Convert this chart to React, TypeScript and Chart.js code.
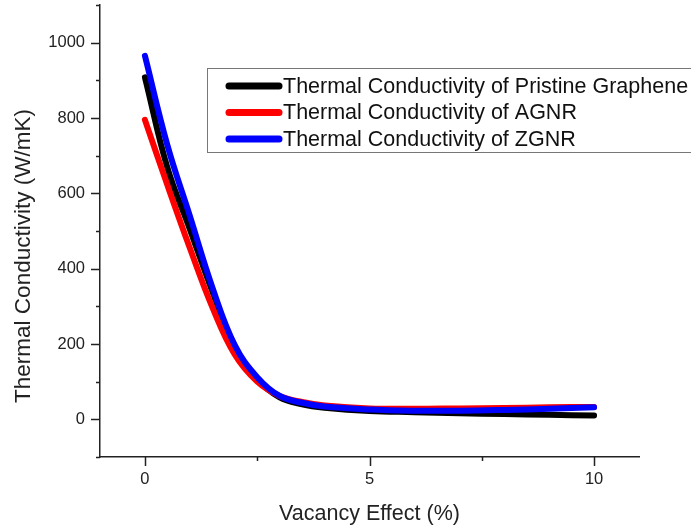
import React, { useEffect, useRef } from "react";
import { Chart, registerables } from "chart.js";

Chart.register(...registerables);

// Vacancy concentration (%) sampled along each curve
const vacancy = [0, 0.5, 1, 1.5, 2, 2.5, 3, 3.5, 4, 5, 6, 7, 8, 9, 10];

// Thermal conductivity (W/mK)
const pristine = [908, 668, 505, 340, 192, 107, 58, 40, 31, 22, 19, 16, 14, 12, 10];
const agnr = [795, 622, 455, 298, 172, 100, 62, 46, 37, 29, 28, 29, 30, 32, 33];
const zgnr = [965, 728, 540, 351, 197, 112, 62, 44, 34, 26, 23, 23, 25, 28, 32];

const seriesLabels = [
  "Thermal Conductivity of Pristine Graphene",
  "Thermal Conductivity of AGNR",
  "Thermal Conductivity of ZGNR",
];
const seriesColors = ["#000000", "#ff0000", "#0000ff"];

const xMajorTicks = [0, 5, 10];
const xMinorTicks = [2.5, 7.5];
const yMajorTicks = [0, 200, 400, 600, 800, 1000];
const yMinorTicks = [-100, 100, 300, 500, 700, 900, 1100];

const xTitle = "Vacancy Effect (%)";
const yTitle = "Thermal Conductivity (W/mK)";

const FONT = "'Liberation Sans', Arial, Helvetica, sans-serif";
const INK = "#222222";

// Outward major/minor tick marks on the left and bottom axes
const tickMarks = {
  id: "tickMarks",
  afterDraw(chart: any) {
    const { ctx, chartArea } = chart;
    const x = chart.scales.x;
    const y = chart.scales.y;
    ctx.save();
    ctx.strokeStyle = INK;
    ctx.lineWidth = 1.5;
    ctx.beginPath();
    const xt = (vals: number[], len: number) =>
      vals.forEach((v) => {
        const px = Math.round(x.getPixelForValue(v)) + 0.5;
        ctx.moveTo(px, chartArea.bottom);
        ctx.lineTo(px, chartArea.bottom + len);
      });
    const yt = (vals: number[], len: number) =>
      vals.forEach((v) => {
        const py = Math.round(y.getPixelForValue(v)) + 0.5;
        ctx.moveTo(chartArea.left, py);
        ctx.lineTo(chartArea.left - len, py);
      });
    xt(xMajorTicks, 9);
    xt(xMinorTicks, 4);
    yt(yMajorTicks, 9);
    yt(yMinorTicks, 4);
    ctx.stroke();
    ctx.restore();
  },
};

// Axis titles
const axisTitles = {
  id: "axisTitles",
  afterDraw(chart: any) {
    const { ctx, chartArea } = chart;
    ctx.save();
    ctx.fillStyle = INK;
    ctx.textAlign = "center";
    ctx.textBaseline = "middle";
    ctx.font = `21.5px ${FONT}`;
    ctx.fillText(xTitle, (chartArea.left + chartArea.right) / 2, chartArea.bottom + 57);
    ctx.translate(chartArea.left - 76, chartArea.top + 251);
    ctx.rotate(-Math.PI / 2);
    ctx.font = `22.5px ${FONT}`;
    ctx.fillText(yTitle, 0, 0);
    ctx.restore();
  },
};

// Boxed legend inside the plot area
const boxLegend = {
  id: "boxLegend",
  afterDraw(chart: any) {
    const { ctx, chartArea } = chart;
    const datasets = chart.data.datasets;
    const left = chartArea.left + 107;
    const top = chartArea.top + 63;
    const rowH = 26.5;
    const boxH = 84;
    ctx.save();
    ctx.fillStyle = "#ffffff";
    ctx.fillRect(left, top, 700, boxH);
    ctx.strokeStyle = "#777777";
    ctx.lineWidth = 1;
    ctx.strokeRect(left + 0.5, top + 0.5, 700, boxH);
    ctx.font = `21.5px ${FONT}`;
    ctx.textBaseline = "middle";
    ctx.textAlign = "left";
    datasets.forEach((ds: any, i: number) => {
      const cy = top + 18 + i * rowH;
      ctx.strokeStyle = ds.borderColor;
      ctx.lineWidth = 7;
      ctx.lineCap = "round";
      ctx.beginPath();
      ctx.moveTo(left + 22, cy);
      ctx.lineTo(left + 72, cy);
      ctx.stroke();
      ctx.fillStyle = "#111111";
      ctx.fillText(ds.label, left + 76, cy + 1);
    });
    ctx.restore();
  },
};

export default function App() {
  const canvasRef = useRef<HTMLCanvasElement | null>(null);

  useEffect(() => {
    const canvas = canvasRef.current;
    if (!canvas) return;
    const series = [pristine, agnr, zgnr];
    const drawOrder = [2, 1, 0];
    const chart = new Chart(canvas, {
      type: "line",
      data: {
        datasets: series.map((vals, i) => ({
          label: seriesLabels[i],
          data: vals.map((v, j) => ({ x: vacancy[j], y: v })),
          borderColor: seriesColors[i],
          backgroundColor: seriesColors[i],
          borderWidth: 6,
          borderCapStyle: "round",
          borderJoinStyle: "round",
          pointRadius: 0,
          tension: 0.4,
          fill: false,
          order: drawOrder[i],
        })),
      },
      options: {
        responsive: false,
        animation: false,
        devicePixelRatio: 1,
        layout: { padding: { left: 0, top: 5, right: 52, bottom: 0 } },
        plugins: {
          legend: { display: false },
          tooltip: { enabled: false },
        },
        scales: {
          x: {
            type: "linear",
            min: -1,
            max: 11,
            afterBuildTicks: (scale: any) => {
              scale.ticks = xMajorTicks.map((v) => ({ value: v }));
            },
            afterFit: (scale: any) => {
              scale.height = 72;
              scale.paddingLeft = 0;
              scale.paddingRight = 0;
            },
            grid: { display: false, drawTicks: true, tickLength: 9 },
            border: { display: true, color: INK, width: 1.5 },
            ticks: {
              color: INK,
              font: { family: FONT, size: 16.5 },
              padding: 4,
              maxRotation: 0,
              callback: (v: any) => String(v),
            },
          },
          y: {
            type: "linear",
            min: -100,
            max: 1100,
            afterBuildTicks: (scale: any) => {
              scale.ticks = yMajorTicks.map((v) => ({ value: v }));
            },
            afterFit: (scale: any) => {
              scale.width = 100;
              scale.paddingTop = 0;
              scale.paddingBottom = 0;
            },
            grid: { display: false, drawTicks: true, tickLength: 9 },
            border: { display: true, color: INK, width: 1.5 },
            ticks: {
              color: INK,
              font: { family: FONT, size: 16.5 },
              padding: 6,
              callback: (v: any) => String(v),
            },
          },
        },
      },
      plugins: [tickMarks, axisTitles, boxLegend],
    } as any);
    return () => chart.destroy();
  }, []);

  return (
    <div style={{ position: "absolute", left: 0, top: 0, width: 691, height: 529, background: "#fff" }}>
      <canvas ref={canvasRef} width={691} height={529} />
    </div>
  );
}
